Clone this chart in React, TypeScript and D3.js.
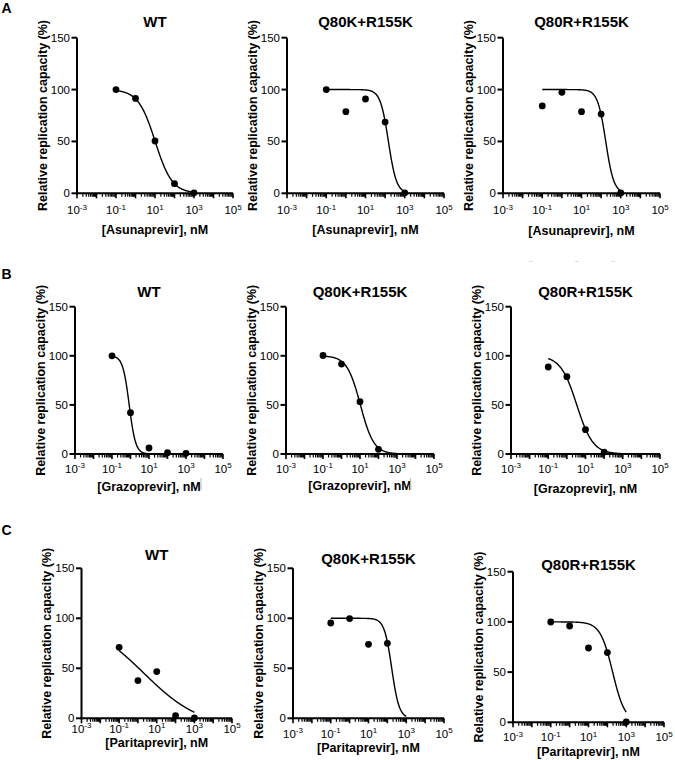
import React from "react";
import * as d3 from "d3";

// ---------- data ----------
const concentrations = [0.1, 1, 10, 100, 1000]; // nM
const drugNames = ["Asunaprevir", "Grazoprevir", "Paritaprevir"];
const variantNames = ["WT", "Q80K+R155K", "Q80R+R155K"];
const panelLetters = ["A", "B", "C"];

// relative replication capacity (%) at each concentration (null = not shown)
const asunaprevirWT = [100, 91.5, 50.4, 9.3, 0.5];
const asunaprevirQ80K = [100, 78.7, 90.9, 68.7, 0.5];
const asunaprevirQ80R = [84.2, 97.3, 78.7, 76.4, 0.3];
const grazoprevirWT = [100, 42.1, 6.1, 1.4, 0.7];
const grazoprevirQ80K = [100.3, 91.6, 53.3, 4.8, null];
const grazoprevirQ80R = [88.6, 78.7, 24.8, 2.0, null];
const paritaprevirWT = [71, 37.7, 46.7, 2.7, 0.3];
const paritaprevirQ80K = [95.3, 99.7, 74, 75, null];
const paritaprevirQ80R = [99.9, 95.9, 74, 69.4, 0.3];

// fitted dose-response curves: [top, bottom, IC50 (nM), Hill slope]
const fitAsunaprevir = [[100, 0, 10.2, 1.0], [100, 0, 147, 2.1], [100, 0, 172, 2.1]];
const fitGrazoprevir = [[100, 0, 0.85, 2.5], [100, 0, 10.5, 1.2], [100, 0, 3.4, 1.0]];
const fitParitaprevir = [[100, -10, 2.1, 0.287], [100, 0, 170, 2.2], [100, 0, 190, 1.32]];

const yTicks = [0, 50, 100, 150];
const xTickExponents = [-3, -1, 1, 3, 5];
const yLabel = "Relative replication capacity (%)";

const responses = [
  [asunaprevirWT, asunaprevirQ80K, asunaprevirQ80R],
  [grazoprevirWT, grazoprevirQ80K, grazoprevirQ80R],
  [paritaprevirWT, paritaprevirQ80K, paritaprevirQ80R],
];
const fits = [fitAsunaprevir, fitGrazoprevir, fitParitaprevir];

// ---------- layout (pixels) ----------
const layouts = [
  [
    { x0: 77, x1: 233, yT: 37.7, yB: 193.3, titleY: 27, tickY: 214, labY: 234 },
    { x0: 287, x1: 444, yT: 37.7, yB: 193.3, titleY: 27, tickY: 214, labY: 234 },
    { x0: 503, x1: 660, yT: 37.7, yB: 193.3, titleY: 27, tickY: 214, labY: 234.5 },
  ],
  [
    { x0: 75, x1: 223, yT: 306.7, yB: 454, titleY: 296.7, tickY: 472.7, labY: 490.5 },
    { x0: 286, x1: 434, yT: 306.7, yB: 454, titleY: 296.7, tickY: 472.7, labY: 490 },
    { x0: 511, x1: 660, yT: 306.7, yB: 454, titleY: 296.7, tickY: 472.7, labY: 492.5 },
  ],
  [
    { x0: 81.5, x1: 232, yT: 568.3, yB: 718.3, titleY: 560, tickY: 732.5, labY: 747.3 },
    { x0: 293, x1: 444, yT: 568.3, yB: 718.3, titleY: 564.3, tickY: 737.5, labY: 752 },
    { x0: 513, x1: 664, yT: 571.7, yB: 722.3, titleY: 570, tickY: 741, labY: 755.5 },
  ],
];
const letterY = [12.7, 279, 535];
// faint scanning artifacts present in the source figure
const cursorMarks = [[201, 478, 490], [410.5, 478, 490]];
const faintDashes = [[531, 261.5], [577, 261.5], [613, 261.5]];

const FONT = "'Liberation Sans', Arial, Helvetica, sans-serif";

function Panel({ row, col }: { row: number; col: number }) {
  const L = layouts[row][col];
  const x = d3.scaleLog().domain([1e-3, 1e5]).range([L.x0, L.x1]);
  const y = d3.scaleLinear().domain([0, 150]).range([L.yB, L.yT]);
  const vals = responses[row][col];
  const [top, bottom, ic50, hill] = fits[row][col];
  const model = (c: number) => bottom + (top - bottom) / (1 + Math.pow(c / ic50, hill));
  const curveX = d3.range(Math.log10(0.1), Math.log10(1000) + 1e-9, 0.02).map((e) => Math.pow(10, e));
  const line = d3
    .line<number>()
    .x((c) => x(c))
    .y((c) => y(model(c)))
    .curve(d3.curveMonotoneX);

  const minor: number[] = [];
  for (let e = -3; e < 5; e++) for (let m = 2; m <= 9; m++) minor.push(m * Math.pow(10, e));
  const major = d3.range(-3, 6).map((e) => Math.pow(10, e));
  const cx = (L.x0 + L.x1) / 2;
  const cy = (L.yT + L.yB) / 2;

  return (
    <g fontFamily={FONT}>
      <text x={cx} y={L.titleY} textAnchor="middle" fontWeight="bold" fontSize={15}>
        {variantNames[col]}
      </text>
      <path d={line(curveX) || ""} fill="none" stroke="#000" strokeWidth={1.4} />
      {vals.map((v, i) =>
        v === null ? null : (
          <circle key={i} cx={x(concentrations[i])} cy={y(v)} r={3.4} fill="#000" />
        )
      )}
      <line x1={L.x0} x2={L.x0} y1={L.yT} y2={L.yB + 1} stroke="#000" strokeWidth={2} />
      <line x1={L.x0 - 1} x2={L.x1} y1={L.yB} y2={L.yB} stroke="#000" strokeWidth={2} />
      {yTicks.map((t) => (
        <g key={t}>
          <line x1={L.x0 - 5.5} x2={L.x0} y1={y(t)} y2={y(t)} stroke="#000" strokeWidth={2} />
          <text x={L.x0 - 7} y={y(t) + 4} textAnchor="end" fontSize={11.5}>
            {t}
          </text>
        </g>
      ))}
      {major.map((t, i) => (
        <line key={"M" + i} x1={x(t)} x2={x(t)} y1={L.yB} y2={L.yB + 5} stroke="#000" strokeWidth={1.6} />
      ))}
      {minor.map((t, i) => (
        <line key={"m" + i} x1={x(t)} x2={x(t)} y1={L.yB} y2={L.yB + 3.5} stroke="#000" strokeWidth={1.2} />
      ))}
      {xTickExponents.map((e) => (
        <text key={e} x={x(Math.pow(10, e))} y={L.tickY} textAnchor="middle" fontSize={11.5}>
          10
          <tspan fontSize={8} dy={-4.5}>
            {e < 0 ? "-" + Math.abs(e) : String(e)}
          </tspan>
        </text>
      ))}
      <text x={cx} y={L.labY} textAnchor="middle" fontWeight="bold" fontSize={12.5}>
        [{drugNames[row]}], nM
      </text>
      <text
        transform={`translate(${L.x0 - 30.5},${cy}) rotate(-90)`}
        textAnchor="middle"
        fontWeight="bold"
        fontSize={12.5}
      >
        {yLabel}
      </text>
    </g>
  );
}

export default function App() {
  return (
    <svg
      width={675}
      height={760}
      style={{ position: "absolute", left: 0, top: 0, background: "#fff" }}
    >
      <rect width={675} height={760} fill="#fff" />
      {panelLetters.map((l, r) => (
        <text key={l} x={1.5} y={letterY[r]} fontFamily={FONT} fontWeight="bold" fontSize={14}>
          {l}
        </text>
      ))}
      {[0, 1, 2].map((r) => [0, 1, 2].map((c) => <Panel key={r + "-" + c} row={r} col={c} />))}
      {cursorMarks.map(([mx, y1, y2], i) => (
        <line key={"c" + i} x1={mx} x2={mx} y1={y1} y2={y2} stroke="#bbb" strokeWidth={1} />
      ))}
      {faintDashes.map(([dx, dy], i) => (
        <line key={"d" + i} x1={dx - 2} x2={dx + 2} y1={dy} y2={dy} stroke="#ddd" strokeWidth={1} />
      ))}
    </svg>
  );
}
